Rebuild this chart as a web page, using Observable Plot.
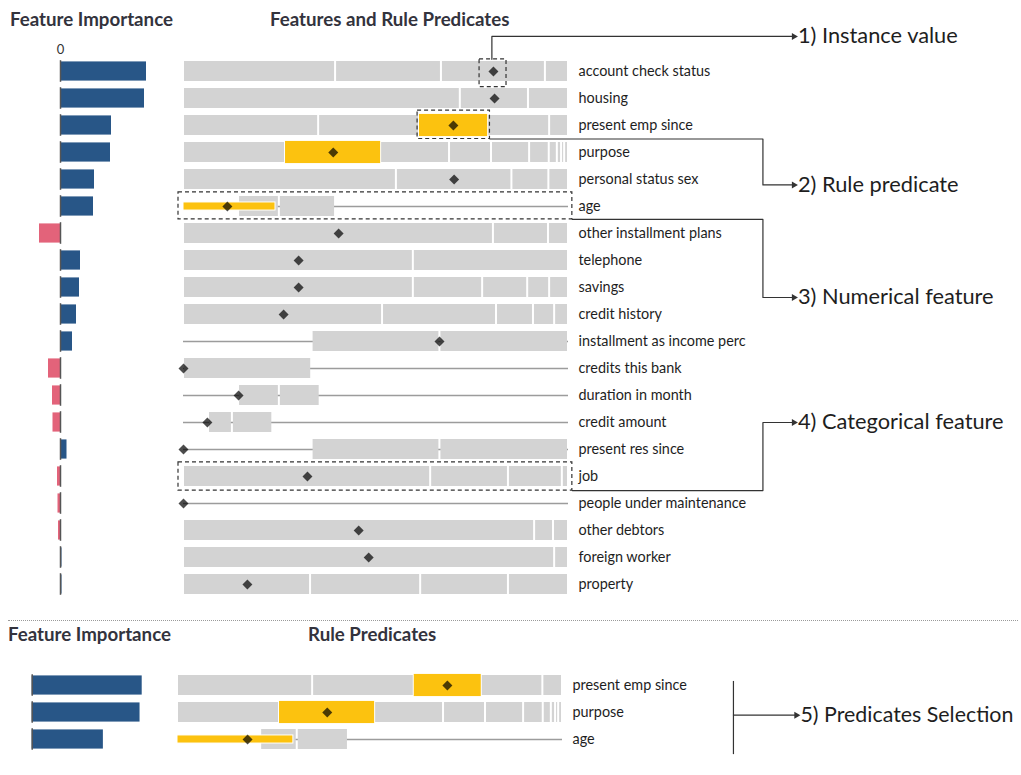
<!DOCTYPE html>
<html><head><meta charset="utf-8">
<script src="https://cdn.jsdelivr.net/npm/d3@7"></script>
<script src="https://cdn.jsdelivr.net/npm/@observablehq/plot@0.6"></script>
<style>
body{margin:0;background:#fff;font-family:Lato,"Noto Sans",sans-serif;}
#wrap{position:relative;width:1021px;height:775px;overflow:hidden;background:#fff}
.layer{position:absolute;left:0}
.title{position:absolute;font-weight:700;font-size:18.7px;line-height:22px;color:#33333d;white-space:nowrap}
.sep{position:absolute;left:8px;width:1010px;top:620px;border-top:1px dotted #9a9a9a}
</style></head><body><div id="wrap"></div>
<script>
// ---------------- data ----------------
const features = ["account check status","housing","present emp since","purpose","personal status sex","age","other installment plans","telephone","savings","credit history","installment as income perc","credits this bank","duration in month","credit amount","present res since","job","people under maintenance","other debtors","foreign worker","property"];
const importance = [0.086,0.084,0.051,0.050,0.034,0.033,-0.021,0.020,0.019,0.016,0.012,-0.012,-0.008,-0.0075,0.0065,-0.003,-0.0025,-0.002,0.0015,0.0015];
const featureKind = ["cat","cat","cat","cat","cat","num","cat","cat","cat","cat","num","num","num","num","num","cat","num","cat","cat","cat"];
const binBreaks = [
 [0,0.395,0.670,0.940,1],
 [0,0.719,0.896,1],
 [0,0.351,0.613,0.790,0.951,1],
 [0,0.265,0.512,0.691,0.800,0.899,0.950,0.971,0.982,0.990,1],
 [0,0.553,0.853,0.949,1],
 [0.143,0.249,0.395],
 [0,0.805,0.948,1],
 [0,0.597,1],
 [0,0.597,0.777,0.894,0.951,1],
 [0,0.517,0.813,0.909,0.964,1],
 [0.334,0.666,1],
 [0,0.333],
 [0.143,0.249,0.355],
 [0.065,0.127,0.232],
 [0.334,0.666,1],
 [0,0.642,0.844,0.984,1],
 [],
 [0,0.912,0.961,1],
 [0,0.964,1],
 [0,0.330,0.616,0.844,1]
];
const instanceValue = [0.805,0.808,0.701,0.389,0.703,0.114,0.403,0.299,0.299,0.260,0.665,0,0.143,0.062,0,0.322,0,0.455,0.481,0.166];
const ruleFeature = ["present emp since","purpose","age"];
const ruleLow = [0.613,0.265,0];
const ruleHigh = [0.790,0.512,0.239];
const importanceTicks = [0];

// selected predicates (bottom panel)
const selFeatures = ["present emp since","purpose","age"];
const selImportance = [0.051,0.050,0.033];
const selKind = ["cat","cat","num"];
const selBreaks = [
 [0,0.351,0.615,0.789,0.949,1],
 [0,0.265,0.512,0.691,0.800,0.899,0.950,0.971,0.982,0.990,1],
 [0.216,0.311,0.444]
];
const selValue = [0.701,0.389,0.182];
const selRuleLow = [0.615,0.265,0];
const selRuleHigh = [0.789,0.512,0.301];

// annotations
const annotationLabels = ["1) Instance value","2) Rule predicate","3) Numerical feature","4) Categorical feature"];
const annotationRows = [-1.3,4.2,8.37,13];
const selectionLabel = "5) Predicates Selection";

// ---------------- styling ----------------
const GRAY = "#d3d3d3", YELLOW = "#fcc20f", BLUE = "#285687", PINK = "#e3637a", LINE = "#9c9c9c", INK = "#333";
const font = {fontFamily: "Lato, 'Noto Sans', sans-serif", fontSize: "14px", background: "transparent", overflow: "visible"};

function buildRows(names, kinds, breaks, values, rLo, rHi, rNames) {
  const segs = [], lines = [], dots = [], catRules = [], numRules = [];
  names.forEach((f, i) => {
    const b = breaks[i];
    for (let j = 0; j < b.length - 1; j++) segs.push({i, x1: b[j], x2: b[j + 1]});
    if (kinds[i] === "num") lines.push({i});
    dots.push({i, x: values[i]});
    const k = rNames.indexOf(f);
    if (k >= 0) (kinds[i] === "num" ? numRules : catRules).push({i, x1: rLo[k], x2: rHi[k]});
  });
  return {segs, lines, dots, catRules, numRules};
}

function ruleMarks(R, names) {
  return [
    Plot.ruleY(R.lines, {y: "i", x1: 0, x2: 1, stroke: LINE, strokeWidth: 1.5}),
    Plot.rect(R.segs, {x1: "x1", x2: "x2", y1: d => d.i - 0.37, y2: d => d.i + 0.37, fill: GRAY, insetLeft: 1, insetRight: 1}),
    Plot.rect(R.catRules, {x1: "x1", x2: "x2", y1: d => d.i - 0.41, y2: d => d.i + 0.41, fill: YELLOW}),
    Plot.rect(R.numRules, {x1: "x1", x2: "x2", y1: d => d.i - 0.15, y2: d => d.i + 0.15, fill: YELLOW, stroke: "white", strokeWidth: 1}),
    Plot.dot(R.dots, {x: "x", y: "i", symbol: "diamond2", r: 4.5, fill: "black", fillOpacity: 0.7}),
    Plot.text(names, {x: 1, y: (d, i) => i, text: d => d, dx: 10, textAnchor: "start", fontSize: 14.4, fill: "#1e1e1e"})
  ];
}

const wrap = document.getElementById("wrap");
function place(el, top, left = 0) { el.classList.add("layer"); el.style.top = top + "px"; el.style.left = left + "px"; wrap.appendChild(el); }
function title(text, x, y) { const d = document.createElement("div"); d.className = "title"; d.textContent = text; d.style.left = x + "px"; d.style.top = y + "px"; wrap.appendChild(d); }

// ---------------- top: feature importance ----------------
const impRows = features.map((f, i) => ({i, v: importance[i]}));
const impTop = Plot.plot({
  width: 180, height: 610, margin: 0,
  style: font,
  x: {domain: [0, 0.086], range: [60, 146], axis: null},
  y: {domain: [0, 19], range: [71, 584], axis: null},
  marks: [
    Plot.text(importanceTicks, {x: d => d, y: -0.8, text: d => String(d), fontSize: 13, fill: "#333"}),
    Plot.rect(impRows, {x1: 0, x2: "v", y1: d => d.i - 0.355, y2: d => d.i + 0.355, fill: d => d.v >= 0 ? BLUE : PINK}),
    Plot.ruleX(impRows, {x: 0, y1: d => d.i - 0.4, y2: d => d.i + 0.4, stroke: "#555", strokeWidth: 1.5})
  ]
});
place(impTop, 0);

// ---------------- top: rules + annotations ----------------
const R = buildRows(features, featureKind, binBreaks, instanceValue, ruleLow, ruleHigh, ruleFeature);
const iAcc = 0, iEmp = features.indexOf("present emp since"), iAge = features.indexOf("age"), iJob = features.indexOf("job");
const kEmp = ruleFeature.indexOf("present emp since");
const boxes = [
  {x1: instanceValue[iAcc] - 0.036, x2: instanceValue[iAcc] + 0.034, y1: iAcc - 0.45, y2: iAcc + 0.58},
  {x1: ruleLow[kEmp] - 0.005, x2: ruleHigh[kEmp] + 0.006, y1: iEmp - 0.55, y2: iEmp + 0.5},
  {x1: -0.013, x2: 1.01, y1: iAge - 0.52, y2: iAge + 0.48},
  {x1: -0.013, x2: 1.01, y1: iJob - 0.52, y2: iJob + 0.52}
];
const elbowX = 1.505, arrowX = 1.588, labelX = 1.596;
const annPaths = [];
annotationRows.forEach((ly, k) => {
  const b = boxes[k];
  let pts;
  if (k === 0) { const x = instanceValue[iAcc] - 0.004; pts = [[x, b.y1], [x, ly], [arrowX, ly]]; }
  else pts = [[b.x2, b.y2], [elbowX, b.y2], [elbowX, ly], [arrowX, ly]];
  pts.forEach(([x, y]) => annPaths.push({k, x, y}));
});
const annLabels = annotationLabels.map((t, k) => ({t, y: annotationRows[k]}));

const rulesTop = Plot.plot({
  width: 1021, height: 610, margin: 0,
  style: font,
  x: {domain: [0, 1], range: [183, 568], axis: null},
  y: {domain: [0, 19], range: [71, 584], axis: null},
  marks: [
    ...ruleMarks(R, features),
    Plot.rect(boxes, {x1: "x1", x2: "x2", y1: "y1", y2: "y2", fill: "none", stroke: INK, strokeWidth: 1.2, strokeDasharray: "4,3"}),
    Plot.line(annPaths, {x: "x", y: "y", z: "k", stroke: INK, strokeWidth: 1.2}),
    Plot.dot(annLabels, {x: arrowX, y: "y", symbol: "triangle", rotate: 90, r: 2.6, fill: INK, dx: -1}),
    Plot.text(annLabels, {x: labelX, y: "y", text: "t", textAnchor: "start", fontSize: 21.8, fill: "#1e1e1e"})
  ]
});
place(rulesTop, 0);

// ---------------- bottom panel ----------------
const selImp = selFeatures.map((f, i) => ({i, v: selImportance[i]}));
const impBottom = Plot.plot({
  width: 180, height: 155, margin: 0,
  style: font,
  x: {domain: [0, 0.051], range: [31.7, 141.7], axis: null},
  y: {domain: [0, 2], range: [65, 119], axis: null},
  marks: [
    Plot.rect(selImp, {x1: 0, x2: "v", y1: d => d.i - 0.355, y2: d => d.i + 0.355, fill: d => d.v >= 0 ? BLUE : PINK}),
    Plot.ruleX(selImp, {x: 0, y1: d => d.i - 0.4, y2: d => d.i + 0.4, stroke: "#555", strokeWidth: 1.5})
  ]
});
place(impBottom, 620);

const S = buildRows(selFeatures, selKind, selBreaks, selValue, selRuleLow, selRuleHigh, selFeatures);
const selBracketX = 1.444;
const rulesBottom = Plot.plot({
  width: 1021, height: 155, margin: 0,
  style: font,
  x: {domain: [0, 1], range: [177, 562], axis: null},
  y: {domain: [0, 2], range: [65, 119], axis: null},
  marks: [
    ...ruleMarks(S, selFeatures),
    Plot.ruleX([selectionLabel], {x: selBracketX, y1: -0.15, y2: 2.56, stroke: INK, strokeWidth: 1.2}),
    Plot.ruleY([selectionLabel], {y: 1.1, x1: selBracketX, x2: 1.61, stroke: INK, strokeWidth: 1.2}),
    Plot.dot([selectionLabel], {x: 1.61, y: 1.1, symbol: "triangle", rotate: 90, r: 2.6, fill: INK, dx: -1}),
    Plot.text([selectionLabel], {x: 1.618, y: 1.1, text: d => d, textAnchor: "start", fontSize: 21.4, fill: "#1e1e1e"})
  ]
});
place(rulesBottom, 620);

// titles & separator
title("Feature Importance", 10, 8);
title("Features and Rule Predicates", 270, 8);
title("Feature Importance", 8, 623);
title("Rule Predicates", 308, 623);
const sep = document.createElement("div"); sep.className = "sep"; wrap.appendChild(sep);
</script></body></html>
